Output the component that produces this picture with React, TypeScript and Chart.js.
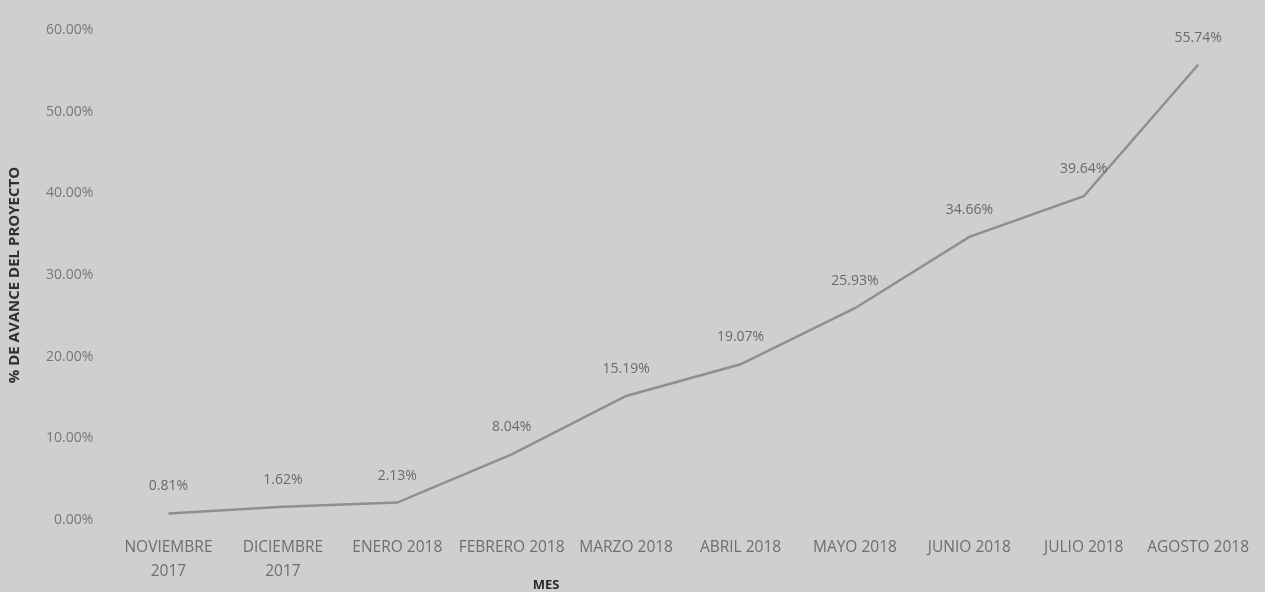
import React, { useEffect, useRef } from "react";
import { Chart, registerables } from "chart.js";

Chart.register(...registerables);

const categories: (string | string[])[] = [
  ["NOVIEMBRE", "2017"],
  ["DICIEMBRE", "2017"],
  "ENERO 2018",
  "FEBRERO 2018",
  "MARZO 2018",
  "ABRIL 2018",
  "MAYO 2018",
  "JUNIO 2018",
  "JULIO 2018",
  "AGOSTO 2018",
];

const avance: number[] = [0.81, 1.62, 2.13, 8.04, 15.19, 19.07, 25.93, 34.66, 39.64, 55.74];

const yTicks: number[] = [0, 10, 20, 30, 40, 50, 60];

const xTitle = "MES";
const yTitle = "% DE AVANCE DEL PROYECTO";

const FONT = "'Open Sans', 'Liberation Sans', sans-serif";

const dataLabelPlugin = {
  id: "dataLabels",
  afterDatasetsDraw(chart: any) {
    const ctx = chart.ctx;
    const meta = chart.getDatasetMeta(0);
    const values = chart.data.datasets[0].data as number[];
    ctx.save();
    ctx.font = `14px ${FONT}`;
    ctx.fillStyle = "#6a6a6a";
    ctx.textAlign = "center";
    ctx.textBaseline = "bottom";
    meta.data.forEach((pt: any, i: number) => {
      ctx.fillText(values[i].toFixed(2) + "%", pt.x, pt.y - 20);
    });
    ctx.restore();
  },
};

const xTitlePlugin = {
  id: "xTitle",
  afterDraw(chart: any) {
    const ctx = chart.ctx;
    const area = chart.chartArea;
    ctx.save();
    ctx.font = `bold 13px ${FONT}`;
    ctx.fillStyle = "#2a2a2a";
    ctx.textAlign = "center";
    ctx.textBaseline = "middle";
    ctx.fillText(xTitle, area.left + area.width * 0.38, chart.height - 7);
    ctx.restore();
  },
};

export default function App() {
  const ref = useRef<HTMLCanvasElement | null>(null);

  useEffect(() => {
    document.body.style.margin = "0";
    document.body.style.background = "#cfcfcf";
    if (!ref.current) return;
    const chart = new Chart(ref.current, {
      type: "line",
      data: {
        labels: categories,
        datasets: [
          {
            data: avance,
            borderColor: "#8f8f8f",
            borderWidth: 2.5,
            pointRadius: 0,
            tension: 0,
            fill: false,
          },
        ],
      },
      plugins: [dataLabelPlugin, xTitlePlugin],
      options: {
        animation: false,
        responsive: false,
        maintainAspectRatio: false,
        layout: { padding: { top: 30, right: -6, bottom: 0, left: 6 } },
        plugins: {
          legend: { display: false },
          tooltip: { enabled: false },
        },
        scales: {
          x: {
            offset: true,
            grid: { display: false, drawTicks: false },
            border: { display: false },
            afterFit: (scale: any) => {
              scale.height = 72;
            },
            ticks: {
              color: "#6e6e6e",
              font: { family: FONT, size: 15.5, lineHeight: 1.55 },
              padding: 16,
              maxRotation: 0,
              autoSkip: false,
            },
            title: { display: false },
          },
          y: {
            min: 0,
            max: 60,
            afterBuildTicks: (axis: any) => {
              axis.ticks = yTicks.map((v) => ({ value: v }));
            },
            grid: { display: false, drawTicks: false },
            border: { display: false },
            ticks: {
              color: "#777777",
              font: { family: FONT, size: 14 },
              padding: 18,
              callback: (v: any) => Number(v).toFixed(2) + "%",
            },
            title: {
              display: true,
              text: yTitle,
              color: "#2f2f2f",
              font: { family: FONT, size: 15, weight: "bold" },
              padding: { top: 0, bottom: 4 },
            },
          },
        },
      },
    });
    return () => chart.destroy();
  }, []);

  return (
    <div style={{ width: 1265, height: 592, background: "#cfcfcf" }}>
      <canvas ref={ref} width={1265} height={592} style={{ display: "block" }} />
    </div>
  );
}
